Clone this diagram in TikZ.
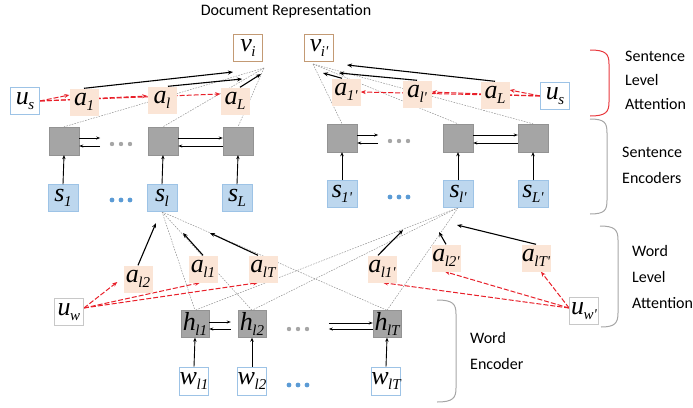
\documentclass[tikz,border=0pt]{standalone}
\usepackage{fontspec}
\setmainfont{Carlito}
\newfontfamily\mytimesit{Liberation Serif Italic}
\usetikzlibrary{arrows.meta,backgrounds,calc}
\newcommand{\mv}[2]{{\mytimesit\fontsize{26}{26}\selectfont #1\kern-0.5pt\raisebox{-0.18em}{\fontsize{15}{15}\selectfont #2}}}
\definecolor{peach}{HTML}{FBE5D6}
\definecolor{sblue}{HTML}{BDD7EE}
\definecolor{sbord}{HTML}{9DC3E6}
\definecolor{encg}{HTML}{A5A5A5}
\definecolor{encb}{HTML}{939393}
\definecolor{vbord}{HTML}{C39A74}
\definecolor{dotg}{HTML}{8A8A8A}
\definecolor{rdash}{HTML}{E8202A}
\definecolor{brgray}{HTML}{A6A6A6}
\definecolor{brred}{HTML}{E8383D}
\definecolor{dblue}{HTML}{5B9BD5}
\definecolor{ugray}{HTML}{C8C8C8}
\begin{document}
\begin{tikzpicture}[x=1pt,y=-1pt,
  base/.style={inner sep=0pt, minimum width=29pt, minimum height=27pt},
  attn/.style={base, fill=peach},
  encbox/.style={base, minimum width=30pt, minimum height=28pt, fill=encg, draw=encb, line width=0.4pt},
  sbox/.style={base, minimum width=30pt, fill=sblue, draw=sbord, line width=0.5pt},
  ctx/.style={base, fill=white, draw=sbord, line width=0.6pt},
  uwbox/.style={base, fill=white, draw=ugray, line width=0.8pt},
  docv/.style={base, fill=white, draw=vbord, line width=1pt},
  lbl/.style={anchor=west, inner sep=0pt, font=\fontsize{16}{16}\selectfont},
  arr/.style={black, line width=1.1pt, -{Stealth[length=5pt,width=4pt]}},
  arrv/.style={black, line width=0.9pt, -{Stealth[length=4pt,width=3.5pt]}},
  arrs/.style={black, line width=0.8pt, -{Stealth[length=4pt,width=3pt]}},
  dotl/.style={dotg, line width=0.45pt, dash pattern=on 1.6pt off 1.2pt},
  rda/.style={rdash, line width=1pt, dash pattern=on 5pt off 2pt, -{Stealth[length=5pt,width=4pt]}},
  brace/.style={line width=1pt}
]
\useasboundingbox (0,0) rectangle (693,407);

% title
\node[inner sep=0pt, font=\fontsize{16}{16}\selectfont] (doc) at (286,11) {Document Representation};

% document vectors
\node[docv] (vi) at (248,48) {\mv{v}{i}};
\node[docv] (vj) at (319,48) {\mv{v}{i'}};

% sentence attention
\node[ctx] (us) at (25,101) {\mv{u}{s}};
\node[attn] (a1) at (84,102) {\mv{a}{1}};
\node[attn] (al) at (162,100) {\mv{a}{l}};
\node[attn] (aL) at (235,101) {\mv{a}{L}};
\node[attn] (a1p) at (346,92) {\mv{a}{1'}};
\node[attn] (alp) at (417,94) {\mv{a}{l'}};
\node[attn] (aLp) at (495,95) {\mv{a}{L}};
\node[ctx] (usp) at (555,96) {\mv{u}{s}};

% sentence encoders
\node[encbox] (e1) at (64,141) {};
\node[encbox] (e2) at (163,141) {};
\node[encbox] (e3) at (238,141) {};
\node[encbox] (e1p) at (342,138) {};
\node[encbox] (e2p) at (458,138) {};
\node[encbox] (e3p) at (533,138) {};

\node[sbox] (s1) at (63,198) {\mv{s}{1}};
\node[sbox] (sl) at (162,198) {\mv{s}{l}};
\node[sbox] (sL) at (237,198) {\mv{s}{L}};
\node[sbox] (s1p) at (342,194) {\mv{s}{1'}};
\node[sbox] (slp) at (458,194) {\mv{s}{l'}};
\node[sbox] (sLp) at (533,194) {\mv{s}{L'}};

% word attention
\node[attn] (al2) at (138,279) {\mv{a}{l2}};
\node[attn] (al1) at (203,269) {\mv{a}{l1}};
\node[attn] (alT) at (263,269) {\mv{a}{lT}};
\node[uwbox] (uw) at (69,312) {\mv{u}{w}};
\node[attn] (al1p) at (382,269) {\mv{a}{l1'}};
\node[attn] (al2p) at (446,258) {\mv{a}{l2'}};
\node[attn] (alTp) at (536,258) {\mv{a}{lT'}};
\node[uwbox] (uwp) at (584,311) {\mv{u}{w'}};

% word encoder
\node[encbox, minimum width=28pt, minimum height=27pt] (h1) at (195,324) {\mv{h}{l1}};
\node[encbox, minimum width=28pt, minimum height=27pt] (h2) at (252,324) {\mv{h}{l2}};
\node[encbox, minimum width=28pt, minimum height=27pt] (hT) at (387,324) {\mv{h}{lT}};
\node[ctx, minimum width=28pt, minimum height=28pt] (w1) at (194,381) {\mv{w}{l1}};
\node[ctx, minimum width=28pt, minimum height=28pt] (w2) at (252,381) {\mv{w}{l2}};
\node[ctx, minimum width=28pt, minimum height=28pt] (wT) at (386,381) {\mv{w}{lT}};

% ellipsis dots
\foreach \x in {112,121,130} {\fill[brgray] (\x,144) circle (2.2pt); \fill[dblue] (\x,200) circle (2.4pt);}
\foreach \x in {390,399,408} {\fill[brgray] (\x,141) circle (2.2pt); \fill[dblue] (\x,197) circle (2.4pt);}
\foreach \x in {289,298,307} {\fill[brgray] (\x,329) circle (2.2pt); \fill[dblue] (\x,385) circle (2.4pt);}

% free-end coordinates
\coordinate (vihub) at (264,68);
\coordinate (vjhub) at (313,64);
\coordinate (vi1) at (233,72);
\coordinate (vi2) at (242,79);
\coordinate (vi3) at (261,74);
\coordinate (vj1) at (347,65);
\coordinate (vj2) at (339,73);
\coordinate (vj3) at (323,73);
\coordinate (sl1) at (156,223);
\coordinate (sl2) at (183,233);
\coordinate (sl3) at (210,233);
\coordinate (slp1) at (403,230);
\coordinate (slp2) at (439,232);
\coordinate (slp3) at (457,225);

\begin{scope}[on background layer]
  % dotted links
  \foreach \t in {e1,e2,e3} \draw[dotl] (vihub) -- (\t.north);
  \foreach \t in {e1p,e2p,e3p} \draw[dotl] (vjhub) -- (\t.north);
  \foreach \t in {h1,h2,hT} {\draw[dotl] (sl.south) -- (\t.north); \draw[dotl] (slp.south) -- (\t.north);}
  % red dashed attention
  \draw[rda] (us.east) -- ([yshift=7pt]a1.west);
  \draw[rda] (us.east) -- ([yshift=4pt]al.west);
  \draw[rda] (us.east) -- ([yshift=7pt]aL.west);
  \draw[rda] (usp.west) -- ([yshift=5pt]aLp.east);
  \draw[rda] (usp.west) -- ([yshift=2pt]alp.east);
  \draw[rda] (usp.west) -- (a1p.east);
  \draw[rda] ([yshift=4pt]uw.east) -- ([xshift=-6pt,yshift=-3pt]al2.west);
  \draw[rda] ([yshift=4pt]uw.east) -- ([xshift=-3pt]al1.south);
  \draw[rda] ([yshift=4pt]uw.east) -- ([xshift=-5pt]alT.south);
  \draw[rda] ([yshift=3pt]uwp.west) -- ([xshift=5pt]alTp.south);
  \draw[rda] ([yshift=3pt]uwp.west) -- ([xshift=-1pt]al2p.south);
  \draw[rda] ([yshift=3pt]uwp.west) -- ([xshift=1pt]al1p.south);
\end{scope}

% black attention arrows
\draw[arr] (a1.north) -- (vi1);
\draw[arr] ([xshift=6pt]al.north) -- (vi2);
\draw[arr] ([xshift=5pt]aL.north) -- (vi3);
\draw[arr] (aLp.north) -- (vj1);
\draw[arr] (alp.north) -- (vj2);
\draw[arr] ([xshift=-4pt]a1p.north) -- (vj3);
\draw[arr] (al2.north) -- (sl1);
\draw[arr] (al1.north) -- (sl2);
\draw[arr] ([xshift=-5pt]alT.north) -- (sl3);
\draw[arr] ([xshift=-4pt]al1p.north) -- (slp1);
\draw[arr] (al2p.north) -- (slp2);
\draw[arr] (alTp.north) -- (slp3);

% vertical encoder arrows
\foreach \a/\b in {s1/e1,sl/e2,sL/e3,s1p/e1p,slp/e2p,sLp/e3p,w1/h1,w2/h2,wT/hT}
  \draw[arrv] (\a.north) -- (\b.south);

% recurrent arrows
\draw[arrs] ([yshift=3pt]e1.east) -- ++(21,0);
\draw[arrs] ([yshift=-5pt]e1.east) ++(21,0) -- ([yshift=-5pt]e1.east);
\draw[arrs] ([yshift=3pt]e2.east) -- ([yshift=3pt]e3.west);
\draw[arrs] ([yshift=-5pt]e3.west) -- ([yshift=-5pt]e2.east);
\draw[arrs] ([yshift=3pt]e1p.east) -- ++(21,0);
\draw[arrs] ([yshift=-5pt]e1p.east) ++(21,0) -- ([yshift=-5pt]e1p.east);
\draw[arrs] ([yshift=3pt]e2p.east) -- ([yshift=3pt]e3p.west);
\draw[arrs] ([yshift=-5pt]e3p.west) -- ([yshift=-5pt]e2p.east);
\draw[arrs] ([yshift=2pt]h1.east) -- ([xshift=-7pt,yshift=2pt]h2.west);
\draw[arrs] ([xshift=-7pt,yshift=-5pt]h2.west) -- ([yshift=-5pt]h1.east);
\draw[arrs] ([xshift=-44pt,yshift=1pt]hT.west) -- ([yshift=1pt]hT.west);
\draw[arrs] ([yshift=-5pt]hT.west) -- ([xshift=-44pt,yshift=-5pt]hT.west);

% braces
\draw[brace, brred] (590,50) .. controls (606,50) and (609,54) .. (609,64) -- (609,102) .. controls (609,112) and (606,116) .. (590,116);
\draw[brace, brgray] (590,119) .. controls (605,119) and (607,123) .. (607,133) -- (607,200) .. controls (607,210) and (605,214) .. (590,214);
\draw[brace, brgray] (600,226) .. controls (615,226) and (618,230) .. (618,240) -- (618,313) .. controls (618,323) and (615,327) .. (601,327);
\draw[brace, brgray] (437,300) .. controls (453,300) and (456,304) .. (456,314) -- (456,388) .. controls (456,398) and (453,402) .. (437,402);

% labels
\node[lbl] (lb1) at (625,56) {Sentence};
\node[lbl] (lb2) at (625,80) {Level};
\node[lbl] (lb3) at (625,104) {Attention};
\node[lbl] (lb4) at (622,152) {Sentence};
\node[lbl] (lb5) at (622,178) {Encoders};
\node[lbl] (lb6) at (632,251) {Word};
\node[lbl] (lb7) at (632,277) {Level};
\node[lbl] (lb8) at (632,303) {Attention};
\node[lbl] (lb9) at (470,338) {Word};
\node[lbl] (lb10) at (470,364) {Encoder};
\end{tikzpicture}
\end{document}
